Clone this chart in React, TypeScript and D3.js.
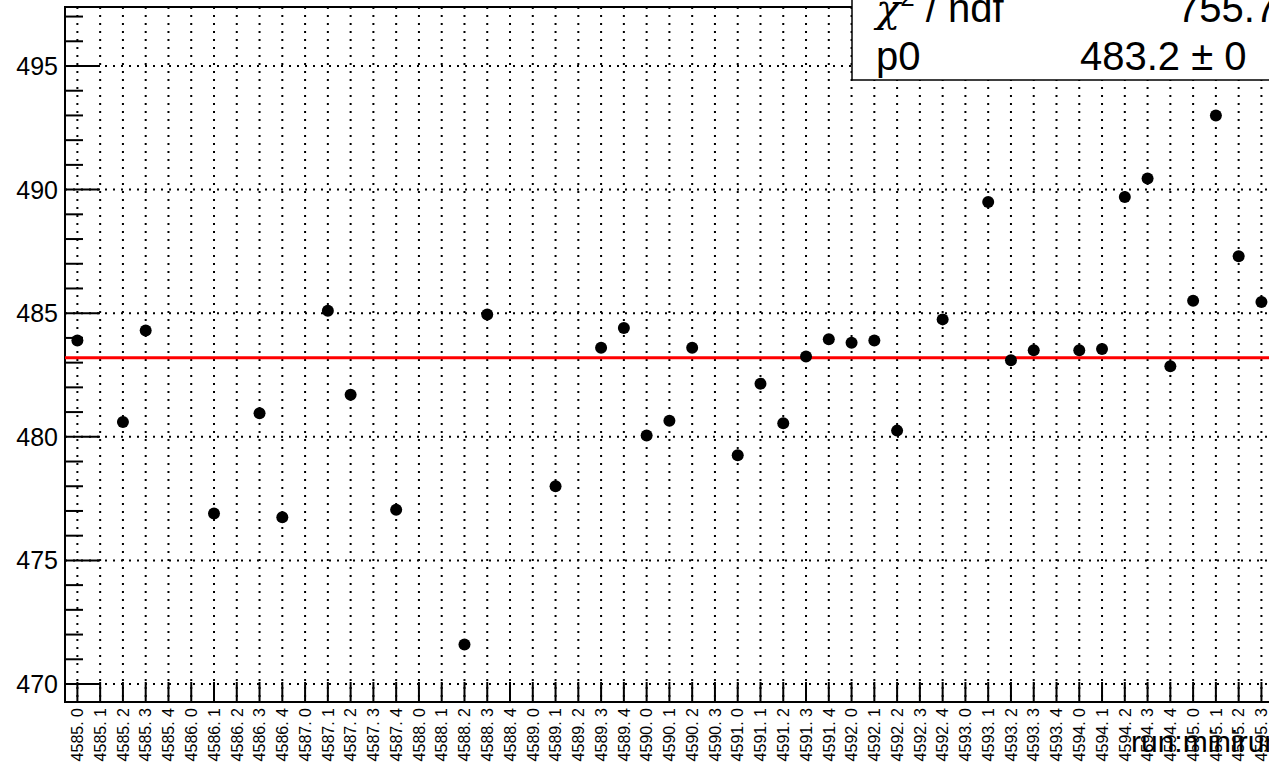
import React, { useEffect, useRef } from "react";
import * as d3 from "d3";

const runLabels = [
  "4585. 0", "4585. 1", "4585. 2", "4585. 3", "4585. 4",
  "4586. 0", "4586. 1", "4586. 2", "4586. 3", "4586. 4",
  "4587. 0", "4587. 1", "4587. 2", "4587. 3", "4587. 4",
  "4588. 0", "4588. 1", "4588. 2", "4588. 3", "4588. 4",
  "4589. 0", "4589. 1", "4589. 2", "4589. 3", "4589. 4",
  "4590. 0", "4590. 1", "4590. 2", "4590. 3",
  "4591. 0", "4591. 1", "4591. 2", "4591. 3", "4591. 4",
  "4592. 0", "4592. 1", "4592. 2", "4592. 3", "4592. 4",
  "4593. 0", "4593. 1", "4593. 2", "4593. 3", "4593. 4",
  "4594. 0", "4594. 1", "4594. 2", "4594. 3", "4594. 4",
  "4595. 0", "4595. 1", "4595. 2", "4595. 3",
];

// index into runLabels, measured value
const pointIndex = [0, 2, 3, 6, 8, 9, 11, 12, 14, 17, 18, 21, 23, 24, 25, 26, 27, 29, 30, 31, 32, 33, 34, 35, 36, 38, 40, 41, 42, 44, 45, 46, 47, 48, 49, 50, 51, 52];
const pointValue = [483.9, 480.6, 484.3, 476.9, 480.95, 476.75, 485.1, 481.7, 477.05, 471.6, 484.95, 478.0, 483.6, 484.4, 480.05, 480.65, 483.6, 479.25, 482.15, 480.55, 483.25, 483.95, 483.8, 483.9, 480.25, 484.75, 489.5, 483.1, 483.5, 483.5, 483.55, 489.7, 490.45, 482.85, 485.5, 493.0, 487.3, 485.45];

const yTicks = [470, 475, 480, 485, 490, 495];
const fitP0 = 483.2;

const App: React.FC = () => {
  const ref = useRef<SVGSVGElement>(null);

  useEffect(() => {
    const svg = d3.select(ref.current);
    svg.selectAll("*").remove();
    const left = 65, top = 7, right = 1290, bottom = 702;
    const font = "Liberation Sans, Arial, sans-serif";

    const x = d3.scaleLinear().domain([-0.5, runLabels.length - 0.5]).range([left + 1, left + 1 + 22.77 * runLabels.length]);
    const y = d3.scaleLinear().domain([470, 495]).range([684, 66]);

    // grid
    const g = svg.append("g");
    g.selectAll("line.vg").data(runLabels).enter().append("line")
      .attr("x1", (_, i) => x(i)).attr("x2", (_, i) => x(i))
      .attr("y1", top).attr("y2", bottom)
      .attr("stroke", "#000").attr("stroke-width", 2).attr("stroke-dasharray", "2,6");
    g.selectAll("line.hg").data(yTicks).enter().append("line")
      .attr("x1", left).attr("x2", right)
      .attr("y1", (d) => y(d)).attr("y2", (d) => y(d))
      .attr("stroke", "#000").attr("stroke-width", 2).attr("stroke-dasharray", "2,6");

    // frame
    svg.append("rect").attr("x", left).attr("y", top).attr("width", right - left).attr("height", bottom - top)
      .attr("fill", "none").attr("stroke", "#000").attr("stroke-width", 2);

    // y ticks
    const minor = d3.range(470, 497.6, 1);
    svg.selectAll("line.yt").data(minor).enter().append("line")
      .attr("x1", left).attr("x2", (d) => left + (d % 5 === 0 ? 35 : 18))
      .attr("y1", (d) => y(d)).attr("y2", (d) => y(d))
      .attr("stroke", "#000").attr("stroke-width", 2);
    svg.selectAll("text.yl").data(yTicks).enter().append("text")
      .attr("x", left - 7).attr("y", (d) => y(d)).attr("dy", "0.36em")
      .attr("text-anchor", "end").attr("font-family", font).attr("font-size", 25)
      .text((d) => d);

    // x ticks
    svg.selectAll("line.xt").data(runLabels).enter().append("line")
      .attr("x1", (_, i) => x(i)).attr("x2", (_, i) => x(i))
      .attr("y1", bottom).attr("y2", bottom - 20)
      .attr("stroke", "#000").attr("stroke-width", 2);
    svg.selectAll("text.xl").data(runLabels).enter().append("text")
      .attr("transform", (_, i) => `translate(${x(i)},708) rotate(-90)`)
      .attr("dy", "0.36em").attr("text-anchor", "end")
      .attr("font-family", font).attr("font-size", 16)
      .text((d) => d);

    // fit line
    svg.append("line").attr("x1", left).attr("x2", right)
      .attr("y1", y(fitP0)).attr("y2", y(fitP0))
      .attr("stroke", "#f00").attr("stroke-width", 3);

    // points
    svg.selectAll("circle").data(pointIndex).enter().append("circle")
      .attr("cx", (d) => x(d)).attr("cy", (_, i) => y(pointValue[i]))
      .attr("r", 6).attr("fill", "#000");

    // stats box
    svg.append("rect").attr("x", 852).attr("y", -5).attr("width", 500).attr("height", 85)
      .attr("fill", "#fff").attr("stroke", "#000").attr("stroke-width", 1.5);
    const st = svg.append("g").attr("font-family", font).attr("font-size", 40);
    const chi = st.append("text").attr("x", 876).attr("y", 22);
    chi.append("tspan").attr("font-family", "DejaVu Serif, serif").attr("font-style", "italic").text("χ");
    chi.append("tspan").attr("font-size", 26).attr("dy", -16).text("2");
    chi.append("tspan").attr("dy", 16).text(" / ndf");
    st.append("text").attr("x", 1177).attr("y", 22).text("755.7");
    st.append("text").attr("x", 876).attr("y", 70).text("p0");
    st.append("text").attr("x", 1080).attr("y", 70).text("483.2 ± 0");

    // axis title
    svg.append("text").attr("x", 1131).attr("y", 752)
      .attr("font-family", font).attr("font-size", 30).text("run:minirun");
  }, []);

  return <svg ref={ref} width={1269} height={774} style={{ position: "absolute", left: 0, top: 0, background: "#fff" }} />;
};

export default App;
